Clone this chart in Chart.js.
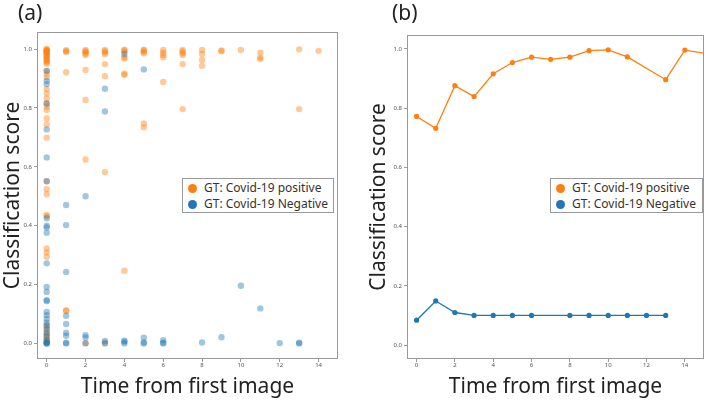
<!DOCTYPE html>
<html>
<head>
<meta charset="utf-8">
<script src="https://cdn.jsdelivr.net/npm/chart.js@4/dist/chart.umd.min.js"></script>
<style>
  body { margin: 0; background: #fff; font-family: "Noto Sans", sans-serif; }
  #page { position: relative; width: 708px; height: 401px; overflow: hidden; }
  canvas { position: absolute; top: 0; }
  #chartA { left: 0; }
  #chartB { left: 354px; }
  .panel { position: absolute; top: 0; font-size: 21px; line-height: 24px; color: #222; }
  .legend { position: absolute; top: 178px; height: 33px; border: 1px solid #999; background: #fff; }
  .item { position: absolute; left: 0; height: 16px; line-height: 16px; font-size: 12px; color: #333; white-space: nowrap; }
  .dot { position: absolute; width: 9px; height: 9px; border-radius: 50%; top: 3.5px; left: 4.5px; }
  .item span { position: absolute; top: 0; }
</style>
</head>
<body>
<div id="page">
  <canvas id="chartA" width="354" height="401"></canvas>
  <canvas id="chartB" width="354" height="401"></canvas>
  <div class="panel" style="left:18px">(a)</div>
  <div class="panel" style="left:392px">(b)</div>
  <div class="legend" style="left:182px;width:150px">
    <div class="item" style="top:1px"><div class="dot" style="background:#ff7f0e"></div><span style="left:21px">GT: Covid-19 positive</span></div>
    <div class="item" style="top:17px"><div class="dot" style="background:#1f77b4"></div><span style="left:21px">GT: Covid-19 Negative</span></div>
  </div>
  <div class="legend" style="left:550px;width:151px">
    <div class="item" style="top:1px"><div class="dot" style="background:#ff7f0e"></div><span style="left:21px">GT: Covid-19 positive</span></div>
    <div class="item" style="top:17px"><div class="dot" style="background:#1f77b4"></div><span style="left:21px">GT: Covid-19 Negative</span></div>
  </div>
</div>
<script>
// time points (days from first image) used in panel (a)
const days = [0, 1, 2, 3, 4, 5, 6, 7, 8, 9, 10, 11, 12, 13, 14];

// panel (a): classification scores per day, positive ground truth
const posScoresByDay = [
  [1.0, 0.998, 0.996, 0.994, 0.992, 0.99, 0.987, 0.984, 0.98, 0.976, 0.972, 0.968, 0.964, 0.96, 0.955, 0.95,
   0.926, 0.915, 0.904, 0.864, 0.849, 0.832, 0.815, 0.804, 0.793, 0.764, 0.744, 0.699, 0.551, 0.524, 0.507,
   0.436, 0.432, 0.323, 0.309, 0.294, 0.062, 0.052, 0.04, 0.03, 0.022, 0.015, 0.008, 0.003],
  [0.996, 0.993, 0.99, 0.921, 0.113, 0.11],
  [0.997, 0.993, 0.99, 0.985, 0.98, 0.929, 0.827, 0.625, 0.001],
  [0.997, 0.993, 0.988, 0.982, 0.949, 0.908, 0.582, 0.002],
  [0.998, 0.995, 0.99, 0.972, 0.968, 0.916, 0.913, 0.247],
  [0.998, 0.995, 0.99, 0.986, 0.747, 0.734],
  [0.997, 0.988, 0.98, 0.972, 0.888],
  [0.997, 0.992, 0.986, 0.98, 0.949, 0.796],
  [0.997, 0.983, 0.963, 0.943],
  [0.995, 0.993],
  [0.997],
  [0.988, 0.971, 0.966],
  [],
  [0.999, 0.796],
  [0.994]
];

// panel (a): classification scores per day, negative ground truth
const negScoresByDay = [
  [0.926, 0.892, 0.881, 0.815, 0.727, 0.632, 0.551, 0.425, 0.4, 0.394, 0.376, 0.272, 0.192, 0.175, 0.147, 0.144,
   0.107, 0.096, 0.083, 0.07, 0.06, 0.048, 0.035, 0.025, 0.012, 0.005, 0.001, 0.0, 0.0],
  [0.47, 0.402, 0.243, 0.094, 0.066, 0.036, 0.026, 0.002, 0.0],
  [0.5, 0.028, 0.02, 0.0],
  [0.865, 0.788, 0.008, 0.0],
  [0.983, 0.009, 0.006, 0.0],
  [0.931, 0.019, 0.003, 0.0],
  [0.011, 0.002, 0.0],
  [],
  [0.003],
  [0.021],
  [0.196],
  [0.119],
  [0.001],
  [0.002, 0.0],
  []
];

// panel (b): mean score over time
const posMeanDays = [0, 1, 2, 3, 4, 5, 6, 7, 8, 9, 10, 11, 13, 14, 16];
const posMeanScores = [0.772, 0.732, 0.876, 0.839, 0.916, 0.954, 0.972, 0.965, 0.972, 0.994, 0.997, 0.973, 0.896, 0.996, 0.975];
const negMeanDays = [0, 1, 2, 3, 4, 5, 6, 8, 9, 10, 11, 12, 13];
const negMeanScores = [0.084, 0.149, 0.11, 0.1, 0.1, 0.1, 0.1, 0.1, 0.1, 0.1, 0.1, 0.1, 0.1];

// axis ticks
const xTicks = [0, 2, 4, 6, 8, 10, 12, 14];
const yTicks = [0.0, 0.2, 0.4, 0.6, 0.8, 1.0];

const ORANGE = '#ff7f0e';
const BLUE = '#1f77b4';
const FRAME = '#999999';

function toPoints(byDay) {
  const pts = [];
  byDay.forEach(function (scores, i) {
    scores.forEach(function (s) { pts.push({ x: days[i], y: s }); });
  });
  return pts;
}

function zip(xs, ys) {
  return xs.map(function (x, i) { return { x: x, y: ys[i] }; });
}

// box around the plot area, like matplotlib spines
const framePlugin = {
  id: 'frame',
  afterDraw(chart) {
    const a = chart.chartArea;
    const ctx = chart.ctx;
    ctx.save();
    ctx.strokeStyle = FRAME;
    ctx.lineWidth = 1;
    ctx.strokeRect(Math.round(a.left) + 0.5, Math.round(a.top) + 0.5,
      Math.round(a.right - a.left) - 1, Math.round(a.bottom - a.top) - 1);
    ctx.restore();
  }
};

function makeScales(yWidth, yMin, yMax) {
  const tickFont = { family: '"Noto Sans", sans-serif', size: 6 };
  const titleFont = { family: '"Noto Sans", sans-serif', size: 21 };
  return {
    x: {
      type: 'linear',
      min: -0.5,
      max: 15,
      afterBuildTicks: function (scale) { scale.ticks = xTicks.map(function (v) { return { value: v }; }); },
      afterFit: function (scale) { scale.height = 42; },
      grid: { drawOnChartArea: false, drawTicks: true, tickLength: 3, color: FRAME },
      border: { display: false },
      ticks: { font: tickFont, color: '#555', padding: 0, maxRotation: 0, callback: function (v) { return String(v); } },
      title: { display: true, text: 'Time from first image', font: titleFont, color: '#222', padding: { top: 0, bottom: 1 } }
    },
    y: {
      type: 'linear',
      min: yMin,
      max: yMax,
      afterBuildTicks: function (scale) { scale.ticks = yTicks.map(function (v) { return { value: v }; }); },
      afterFit: function (scale) { scale.width = yWidth; },
      grid: { drawOnChartArea: false, drawTicks: true, tickLength: 3, color: FRAME },
      border: { display: false },
      ticks: { font: tickFont, color: '#555', padding: 2, callback: function (v) { return Number(v).toFixed(1); } },
      title: { display: true, text: 'Classification score', font: titleFont, color: '#222', padding: 0 }
    }
  };
}

// panel (a): scatter of all scores
new Chart(document.getElementById('chartA').getContext('2d'), {
  type: 'scatter',
  data: {
    datasets: [{
      label: 'GT: Covid-19 positive',
      data: toPoints(posScoresByDay),
      backgroundColor: 'rgba(255,127,14,0.42)',
      borderWidth: 0,
      pointRadius: 3.2,
      order: 1
    }, {
      label: 'GT: Covid-19 Negative',
      data: toPoints(negScoresByDay),
      backgroundColor: 'rgba(31,119,180,0.42)',
      borderWidth: 0,
      pointRadius: 3.2,
      order: 0
    }]
  },
  options: {
    responsive: false,
    animation: false,
    layout: { padding: { top: 32, right: 16, left: 0, bottom: 0 } },
    plugins: { legend: { display: false }, tooltip: { enabled: false } },
    scales: makeScales(37, -0.053, 1.058)
  },
  plugins: [framePlugin]
});

// panel (b): mean score per day
new Chart(document.getElementById('chartB').getContext('2d'), {
  type: 'scatter',
  data: {
    datasets: [{
      label: 'GT: Covid-19 positive',
      data: zip(posMeanDays, posMeanScores),
      showLine: true,
      borderColor: ORANGE,
      backgroundColor: ORANGE,
      borderWidth: 1.3,
      pointRadius: 2.6,
      pointBorderWidth: 0
    }, {
      label: 'GT: Covid-19 Negative',
      data: zip(negMeanDays, negMeanScores),
      showLine: true,
      borderColor: BLUE,
      backgroundColor: BLUE,
      borderWidth: 1.3,
      pointRadius: 2.6,
      pointBorderWidth: 0
    }]
  },
  options: {
    responsive: false,
    animation: false,
    layout: { padding: { top: 35, right: 1, left: 12, bottom: 0 } },
    plugins: { legend: { display: false }, tooltip: { enabled: false } },
    scales: makeScales(41, -0.047, 1.047)
  },
  plugins: [framePlugin]
});
</script>
</body>
</html>
